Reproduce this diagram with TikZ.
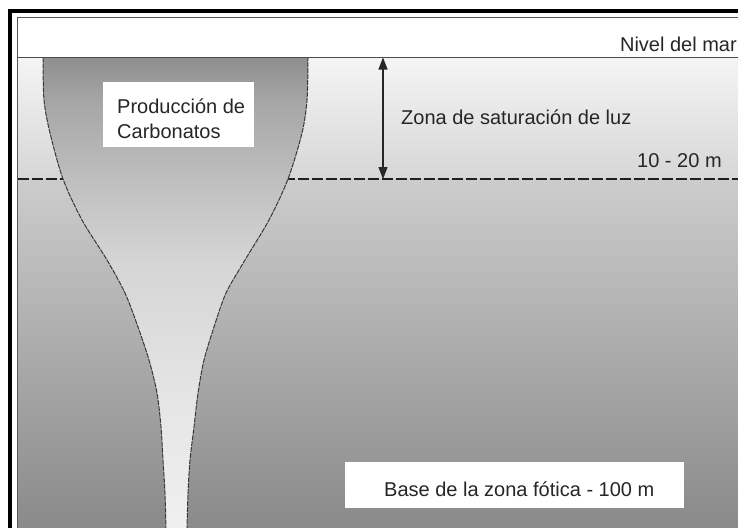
\documentclass[tikz,border=0pt]{standalone}
\usepackage{fontspec}
\setmainfont{Liberation Sans}
\usetikzlibrary{arrows.meta}
\definecolor{uA}{gray}{0.96}
\definecolor{uB}{gray}{0.84}
\definecolor{lA}{gray}{0.80}
\definecolor{lB}{gray}{0.54}
\definecolor{fA}{gray}{0.94}
\definecolor{fB}{gray}{0.90}
\definecolor{fC}{gray}{0.835}
\definecolor{fD}{gray}{0.75}
\definecolor{fE}{gray}{0.65}
\definecolor{fF}{gray}{0.56}
\pgfdeclareverticalshading{funnelshade}{100bp}{color(0bp)=(fA); color(25bp)=(fA); color(38.5bp)=(fB); color(53.4bp)=(fC); color(61.9bp)=(fD); color(70.4bp)=(fE); color(75bp)=(fF); color(100bp)=(fF)}
\begin{document}
\begin{tikzpicture}[x=1pt,y=-1pt,
  txt/.style={font=\fontsize{20}{24}\selectfont, text=black!85, inner sep=0pt},
  whitebox/.style={fill=white, draw=none, inner sep=0pt},
  edgeline/.style={draw=black!78, line width=1pt, dash pattern=on 5pt off 1pt},
  dashline/.style={draw=black!88, line width=2.8pt, dash pattern=on 11pt off 3pt},
  thinline/.style={draw=black!70, line width=0.9pt},
  dimarrow/.style={{Triangle[width=9pt,length=12pt]}-{Triangle[width=9pt,length=12pt]}, line width=1.2pt, draw=black!85, fill=black!85}]
\useasboundingbox (0,0) rectangle (738,527);
\clip (0,0) rectangle (738,527);
\fill[white] (0,0) rectangle (738,527);
% water zones
\shade[top color=uA, bottom color=uB] (17.5,57.5) rectangle (740,179);
\shade[top color=lA, bottom color=lB] (17.5,179) rectangle (740,530);
\draw[dashline] (17.5,179) -- (740,179);
% funnel
\shade[shading=funnelshade]
  plot[smooth] coordinates {(43,57.5) (44,100) (50,133) (63,179) (82,220) (107,260) (125,293) (138,327) (149,360) (157,393) (161,427) (163,460) (165,493) (166,530)}
  -- plot[smooth] coordinates {(187,530) (188,493) (190,460) (194,427) (198,393) (204,360) (214,327) (226,293) (245,260) (269,220) (288,179) (302,133) (307,100) (308,57.5)}
  -- cycle;
\draw[edgeline] plot[smooth] coordinates {(43,57.5) (44,100) (50,133) (63,179) (82,220) (107,260) (125,293) (138,327) (149,360) (157,393) (161,427) (163,460) (165,493) (166,530)};
\draw[edgeline] plot[smooth] coordinates {(187,530) (188,493) (190,460) (194,427) (198,393) (204,360) (214,327) (226,293) (245,260) (269,220) (288,179) (302,133) (307,100) (308,57.5)};
% sea level and frame
\draw[thinline] (17.5,57.5) -- (740,57.5);
\draw[draw=black!65, line width=0.8pt] (17.5,540) -- (17.5,17.5) -- (750,17.5);
\draw[draw=black, line width=4pt] (10,540) -- (10,11) -- (750,11);
% labels
\node[txt, anchor=base east] (nivel) at (737,52) {Nivel del mar};
\node[whitebox, minimum width=151, minimum height=65] (prodbox) at (178.5,114.5) {};
\node[txt, anchor=base west] (prod1) at (117,113) {Producción de};
\node[txt, anchor=base west] (prod2) at (117,138) {Carbonatos};
\node[txt, anchor=base west] (zona) at (401,124) {Zona de saturación de luz};
\node[txt, anchor=base west] (rango) at (637,167) {10 - 20 m};
\node[whitebox, minimum width=339, minimum height=46] (basebox) at (514.5,485) {};
\node[txt, anchor=base west] (base) at (384,496) {Base de la zona fótica - 100 m};
% dimension arrow
\coordinate (sea) at (383,57.5);
\coordinate (photic) at (383,179);
\draw[dimarrow] (sea) -- (photic);
\end{tikzpicture}
\end{document}
